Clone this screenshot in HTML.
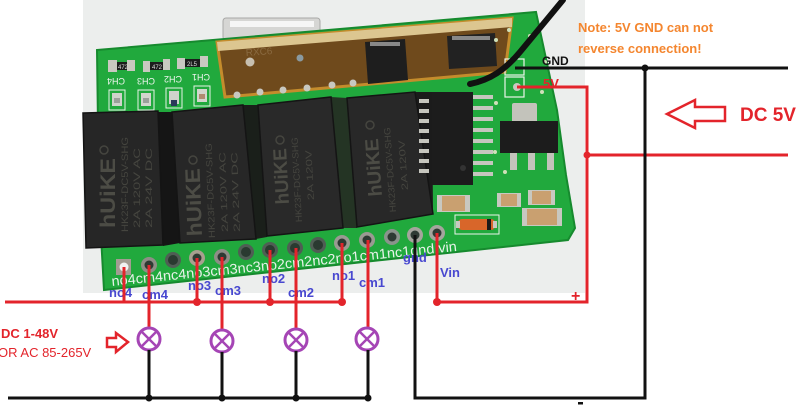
<!DOCTYPE html>
<html><head><meta charset="utf-8">
<style>
html,body{margin:0;padding:0;background:#fff;}
svg{display:block;}
text{font-family:"Liberation Sans",Arial,sans-serif;}
</style></head><body>
<svg width="800" height="415" viewBox="0 0 800 415" xmlns="http://www.w3.org/2000/svg">
<rect width="800" height="415" fill="#fff"/>
<!-- photo background -->
<rect x="83" y="0" width="502" height="293" fill="#eceeed"/>
<!-- silver connector behind module -->
<rect x="223" y="18" width="97" height="22" rx="3" fill="#d6d6d4" stroke="#a8a8a6"/>
<rect x="230" y="21" width="84" height="6" fill="#f6f6f6"/>

<!-- PCB board -->
<polygon points="97,50 536,12 557,110 566,175 575,228 568,240 104,290 99,200" fill="#21a93d" stroke="#168a2e" stroke-width="2"/>

<!-- LED / resistor area -->
<g>
  <rect x="108" y="60" width="9" height="12" fill="#c9c9c1"/>
  <rect x="117" y="62" width="11" height="8" fill="#1c1c1c"/>
  <rect x="127" y="60" width="8" height="11" fill="#c9c9c1"/>
  <rect x="143" y="61" width="7" height="11" fill="#c9c9c1"/>
  <rect x="150" y="62" width="13" height="8" fill="#1c1c1c"/>
  <rect x="163" y="59" width="7" height="11" fill="#c9c9c1"/>
  <rect x="177" y="58" width="8" height="11" fill="#c9c9c1"/>
  <rect x="185" y="59" width="15" height="8" fill="#1c1c1c"/>
  <rect x="200" y="56" width="8" height="11" fill="#c9c9c1"/>
  <text x="118" y="69" font-size="6" fill="#ddd">472</text>
  <text x="152" y="69" font-size="6" fill="#ddd">472</text>
  <text x="187" y="66" font-size="6" fill="#ddd">2L5</text>
  <g fill="none" stroke="#e8f2e8" stroke-width="1">
    <rect x="109" y="90" width="16" height="20"/>
    <rect x="138" y="90" width="16" height="20"/>
    <rect x="166" y="88" width="16" height="20"/>
    <rect x="194" y="86" width="16" height="20"/>
  </g>
  <rect x="112" y="93" width="10" height="13" fill="#cfd3cb"/>
  <rect x="141" y="93" width="10" height="13" fill="#d3d5cd"/>
  <rect x="169" y="91" width="10" height="13" fill="#cfd3cb"/>
  <rect x="197" y="89" width="10" height="13" fill="#d3d5cd"/>
  <rect x="114" y="98" width="6" height="5" fill="#9aa09a"/>
  <rect x="143" y="98" width="6" height="5" fill="#9aa09a"/>
  <rect x="171" y="100" width="6" height="6" fill="#2a3a5a"/>
  <rect x="199" y="94" width="6" height="5" fill="#b08a70"/>
  <text transform="translate(125,78) rotate(180)" font-size="9" fill="#eef4ee">CH4</text>
  <text transform="translate(155,78) rotate(180)" font-size="9" fill="#eef4ee">CH3</text>
  <text transform="translate(182,76) rotate(180)" font-size="9" fill="#eef4ee">CH2</text>
  <text transform="translate(210,74) rotate(180)" font-size="9" fill="#eef4ee">CH1</text>
</g>

<!-- RF module -->
<polygon points="217,42 512,18 505,72 225,97" fill="#6f4a1c" stroke="#c48c2c" stroke-width="3"/>
<polygon points="217,42 512,18 512,27 218,51" fill="#dcc690"/>
<text transform="translate(246,56) rotate(-4)" font-size="10" fill="#8a6a40">RXC6</text>
<polygon points="365,42 405,39 408,80 368,84" fill="#1e1e1e"/>
<polygon points="447,36 495,33 497,66 449,69" fill="#222"/>
<rect x="370" y="42" width="30" height="4" fill="#888"/>
<rect x="452" y="36" width="38" height="4" fill="#888"/>
<circle cx="250" cy="62" r="4.5" fill="#c8c0b0"/>
<circle cx="300" cy="58" r="3.5" fill="#8a9aa0"/>
<g fill="#c8c8c0">
  <circle cx="237" cy="95" r="3.5"/><circle cx="260" cy="92" r="3.5"/><circle cx="283" cy="90" r="3.5"/>
  <circle cx="307" cy="88" r="3.5"/><circle cx="332" cy="85" r="3.5"/><circle cx="353" cy="83" r="3.5"/>
</g>

<!-- relays -->
<polygon points="158,112 172,112 180,243 163,246" fill="#151515"/>
<polygon points="243,105 258,105 267,237 256,239" fill="#1a1f1a"/>
<polygon points="331,97 347,98 357,228 343,228" fill="#243424"/>
<polygon points="415,92 432,92 433,214 422,216" fill="#1b1b1b"/>
<polygon points="83,113 158,111 163,245 86,248" fill="#262626" stroke="#141414" stroke-width="1.5"/>
<polygon points="172,112 243,105 256,239 180,243" fill="#272727" stroke="#141414" stroke-width="1.5"/>
<polygon points="258,105 331,97 343,228 267,236" fill="#292929" stroke="#141414" stroke-width="1.5"/>
<polygon points="347,98 415,92 433,214 357,227" fill="#282828" stroke="#141414" stroke-width="1.5"/>
<!-- relay markings -->
<g fill="#4c4c45" font-weight="bold">
  <text transform="translate(115,228) rotate(-90)" font-size="21" textLength="70" lengthAdjust="spacingAndGlyphs">hUiKE</text>
  <text transform="translate(202,236) rotate(-92)" font-size="21" textLength="68" lengthAdjust="spacingAndGlyphs">hUiKE</text>
  <text transform="translate(289,204) rotate(-93)" font-size="19" textLength="56" lengthAdjust="spacingAndGlyphs">hUiKE</text>
  <text transform="translate(382,196) rotate(-94)" font-size="19" textLength="58" lengthAdjust="spacingAndGlyphs">hUiKE</text>
</g>
<g fill="#45453f">
  <text transform="translate(128,232) rotate(-90)" font-size="9" textLength="95" lengthAdjust="spacingAndGlyphs">HK23F-DC5V-SHG</text>
  <text transform="translate(140,228) rotate(-90)" font-size="9" textLength="80" lengthAdjust="spacingAndGlyphs">2A 120V AC</text>
  <text transform="translate(152,228) rotate(-90)" font-size="9" textLength="80" lengthAdjust="spacingAndGlyphs">2A 24V DC</text>
  <text transform="translate(215,238) rotate(-92)" font-size="9" textLength="95" lengthAdjust="spacingAndGlyphs">HK23F-DC5V-SHG</text>
  <text transform="translate(228,232) rotate(-92)" font-size="9" textLength="80" lengthAdjust="spacingAndGlyphs">2A 120V AC</text>
  <text transform="translate(240,232) rotate(-92)" font-size="9" textLength="80" lengthAdjust="spacingAndGlyphs">2A 24V DC</text>
  <text transform="translate(302,222) rotate(-93)" font-size="9" textLength="85" lengthAdjust="spacingAndGlyphs">HK23F-DC5V-SHG</text>
  <text transform="translate(314,200) rotate(-93)" font-size="9" textLength="50" lengthAdjust="spacingAndGlyphs">2A 120V</text>
  <text transform="translate(396,212) rotate(-94)" font-size="9" textLength="85" lengthAdjust="spacingAndGlyphs">HK23F-DC5V-SHG</text>
  <text transform="translate(408,190) rotate(-94)" font-size="9" textLength="50" lengthAdjust="spacingAndGlyphs">2A 120V</text>
</g>
<g fill="none" stroke="#45453f" stroke-width="1.5">
  <circle cx="104" cy="150" r="4"/><circle cx="193" cy="160" r="4"/><circle cx="280" cy="140" r="4"/><circle cx="370" cy="125" r="4"/>
</g>

<!-- IC chip -->
<rect x="432" y="92" width="41" height="93" fill="#1c1c1c"/>
<g fill="#c6c6be">
  <rect x="419" y="99" width="10" height="4"/><rect x="419" y="109" width="10" height="4"/><rect x="419" y="119" width="10" height="4"/><rect x="419" y="129" width="10" height="4"/>
  <rect x="419" y="139" width="10" height="4"/><rect x="419" y="149" width="10" height="4"/><rect x="419" y="159" width="10" height="4"/><rect x="419" y="169" width="10" height="4"/>
  <rect x="473" y="95" width="20" height="4"/><rect x="473" y="106" width="20" height="4"/><rect x="473" y="117" width="20" height="4"/><rect x="473" y="128" width="20" height="4"/>
  <rect x="473" y="139" width="20" height="4"/><rect x="473" y="150" width="20" height="4"/><rect x="473" y="161" width="20" height="4"/><rect x="473" y="172" width="20" height="4"/>
</g>
<circle cx="463" cy="168" r="3" fill="#333"/>
<!-- regulator -->
<rect x="512" y="103" width="25" height="20" rx="2" fill="#c3c3bb"/>
<rect x="500" y="121" width="58" height="32" fill="#1c1c1c"/>
<g fill="#c3c3bb"><rect x="510" y="153" width="7" height="17"/><rect x="528" y="153" width="7" height="17"/><rect x="547" y="153" width="7" height="17"/></g>
<!-- pads & vias -->
<rect x="505" y="77" width="19" height="20" fill="none" stroke="#eaf3ea" stroke-width="1.2"/>
<rect x="505" y="59" width="19" height="16" fill="none" stroke="#eaf3ea" stroke-width="1.2"/>
<circle cx="517" cy="87" r="4" fill="#c8c8c0"/>
<g fill="#cfe0b8">
  <circle cx="496" cy="40" r="2"/><circle cx="509" cy="30" r="2"/><circle cx="530" cy="36" r="2"/><circle cx="496" cy="103" r="2"/>
  <circle cx="495" cy="152" r="2"/><circle cx="505" cy="172" r="2"/><circle cx="542" cy="92" r="2"/><circle cx="545" cy="62" r="2"/>
</g>
<!-- caps & diode -->
<rect x="437" y="195" width="33" height="17" fill="#c8c8c0"/><rect x="442" y="196" width="23" height="15" fill="#c9a070"/>
<rect x="497" y="193" width="24" height="14" fill="#c8c8c0"/><rect x="501" y="194" width="16" height="12" fill="#c9a070"/>
<rect x="528" y="190" width="27" height="15" fill="#c8c8c0"/><rect x="532" y="191" width="19" height="13" fill="#c9a070"/>
<rect x="522" y="208" width="40" height="18" fill="#c8c8c0"/><rect x="527" y="209" width="30" height="16" fill="#c9a070"/>
<rect x="455" y="215" width="44" height="19" fill="none" stroke="#eaf3ea" stroke-width="1"/>
<rect x="458" y="219" width="37" height="11" rx="4" fill="#d8662a"/>
<rect x="487" y="219" width="4" height="11" fill="#1a1a1a"/>
<rect x="456" y="221" width="4" height="7" fill="#c8c8c0"/><rect x="493" y="221" width="4" height="7" fill="#c8c8c0"/>

<!-- header pins -->
<rect x="116" y="259" width="15" height="16" fill="#a39c92"/>
<circle cx="124" cy="267" r="4.5" fill="#f2f2f2"/>
<g>
  <circle cx="149" cy="265" r="8" fill="#8e8e86"/><circle cx="149" cy="265" r="4.5" fill="#2e3a33"/>
  <circle cx="173" cy="260" r="8" fill="#4f5e54"/><circle cx="173" cy="260" r="5" fill="#2a3a30"/>
  <circle cx="197" cy="258" r="8" fill="#a8a090"/><circle cx="197" cy="258" r="4.5" fill="#2e3a33"/>
  <circle cx="222" cy="257" r="8" fill="#8e8e86"/><circle cx="222" cy="257" r="4.5" fill="#2e3a33"/>
  <circle cx="246" cy="252" r="8" fill="#4f5e54"/><circle cx="246" cy="252" r="5" fill="#2a3a30"/>
  <circle cx="270" cy="250" r="8" fill="#4f5e54"/><circle cx="270" cy="250" r="5" fill="#2a3a30"/>
  <circle cx="295" cy="248" r="8" fill="#4f5e54"/><circle cx="295" cy="248" r="5" fill="#2a3a30"/>
  <circle cx="318" cy="245" r="8" fill="#4f5e54"/><circle cx="318" cy="245" r="5" fill="#2a3a30"/>
  <circle cx="342" cy="243" r="8" fill="#9a9a92"/><circle cx="342" cy="243" r="4.5" fill="#2e3a33"/>
  <circle cx="367" cy="240" r="8" fill="#9a9a92"/><circle cx="367" cy="240" r="4.5" fill="#2e3a33"/>
  <circle cx="392" cy="237" r="8" fill="#8a948c"/><circle cx="392" cy="237" r="4.5" fill="#2e3a33"/>
  <circle cx="415" cy="235" r="8" fill="#a5a59d"/><circle cx="415" cy="235" r="4.5" fill="#2e3a33"/>
  <circle cx="437" cy="233" r="8" fill="#a5a59d"/><circle cx="437" cy="233" r="4.5" fill="#2e3a33"/>
</g>
<text transform="translate(112,286) rotate(-5.8)" font-size="14" fill="#e8f2ea" textLength="347" lengthAdjust="spacingAndGlyphs">no4cm4nc4no3cm3nc3no2cm2nc2no1cm1nc1gnd vin</text>

<!-- antenna wire -->
<path d="M470,84 C490,80 505,70 520,52 S548,18 563,0" stroke="#111" stroke-width="6" fill="none" stroke-linecap="round"/>

<!-- blue labels -->
<g fill="#4848d0" font-weight="bold" font-size="13">
  <text x="109" y="297">no4</text>
  <text x="142" y="299">cm4</text>
  <text x="188" y="290">no3</text>
  <text x="215" y="295">cm3</text>
  <text x="262" y="283">no2</text>
  <text x="288" y="297">cm2</text>
  <text x="332" y="280">no1</text>
  <text x="359" y="287">cm1</text>
  <text x="403" y="262">gnd</text>
  <text x="440" y="277">Vin</text>
</g>

<!-- red wiring -->
<g stroke="#e3242b" stroke-width="3" fill="none">
  <line x1="5" y1="302" x2="343" y2="302"/>
  <line x1="124" y1="267" x2="124" y2="302"/>
  <line x1="197" y1="258" x2="197" y2="302"/>
  <line x1="270" y1="250" x2="270" y2="302"/>
  <line x1="342" y1="243" x2="342" y2="302"/>
  <line x1="149" y1="265" x2="149" y2="328"/>
  <line x1="222" y1="257" x2="222" y2="330"/>
  <line x1="296" y1="248" x2="296" y2="329"/>
  <line x1="368" y1="240" x2="368" y2="327"/>
  <polyline points="517,87 587,87 587,302 437,302"/>
  <line x1="437" y1="233" x2="437" y2="302"/>
  <line x1="587" y1="155" x2="788" y2="155"/>
</g>
<g fill="#e3242b">
  <circle cx="197" cy="302" r="4"/><circle cx="270" cy="302" r="4"/><circle cx="342" cy="302" r="4"/>
  <circle cx="437" cy="302" r="4"/><circle cx="587" cy="155" r="3.5"/>
</g>

<!-- lamps -->
<g stroke="#a545b5" stroke-width="3" fill="#fff">
  <circle cx="149" cy="339" r="11"/><circle cx="222" cy="341" r="11"/><circle cx="296" cy="340" r="11"/><circle cx="367" cy="339" r="11"/>
</g>
<g stroke="#a545b5" stroke-width="2.5">
  <line x1="141" y1="331" x2="157" y2="347"/><line x1="157" y1="331" x2="141" y2="347"/>
  <line x1="214" y1="333" x2="230" y2="349"/><line x1="230" y1="333" x2="214" y2="349"/>
  <line x1="288" y1="332" x2="304" y2="348"/><line x1="304" y1="332" x2="288" y2="348"/>
  <line x1="359" y1="331" x2="375" y2="347"/><line x1="375" y1="331" x2="359" y2="347"/>
</g>

<!-- black wiring -->
<g stroke="#111" stroke-width="3" fill="none">
  <line x1="149" y1="350" x2="149" y2="398"/>
  <line x1="222" y1="352" x2="222" y2="398"/>
  <line x1="296" y1="351" x2="296" y2="398"/>
  <line x1="368" y1="350" x2="368" y2="398"/>
  <line x1="8" y1="398" x2="368" y2="398"/>
  <polyline points="415,235 415,398 645,398 645,68"/>
  <line x1="515" y1="68" x2="788" y2="68"/>
</g>
<g fill="#111">
  <circle cx="149" cy="398" r="3.5"/><circle cx="222" cy="398" r="3.5"/><circle cx="296" cy="398" r="3.5"/><circle cx="368" cy="398" r="3.5"/>
  <circle cx="645" cy="68" r="3.5"/>
</g>

<!-- texts -->
<text x="542" y="65" font-size="12" font-weight="bold" fill="#111">GND</text>
<text x="543" y="88" font-size="13" font-weight="bold" fill="#e3242b">5V</text>
<text x="578" y="32" font-size="13" font-weight="bold" fill="#f4862f">Note: 5V GND can not</text>
<text x="578" y="53" font-size="13" font-weight="bold" fill="#f4862f">reverse connection!</text>
<text x="740" y="121" font-size="19" font-weight="bold" fill="#e3242b">DC 5V</text>
<path d="M667,114 L695,100 L695,107 L725,107 L725,121 L695,121 L695,128 Z" stroke="#e3242b" stroke-width="2.5" fill="#fff"/>
<text x="571" y="301" font-size="16" font-weight="bold" fill="#e3242b">+</text>
<rect x="578" y="402" width="5" height="2.5" fill="#111"/>

<text x="1" y="338" font-size="13" font-weight="bold" fill="#e3242b">DC 1-48V</text>
<text x="-2" y="357" font-size="13" fill="#e3242b">OR AC 85-265V</text>
<path d="M128,342 L116,333 L116,338 L107,338 L107,347 L116,347 L116,352 Z" stroke="#e3242b" stroke-width="2.5" fill="none"/>
</svg>
</body></html>
